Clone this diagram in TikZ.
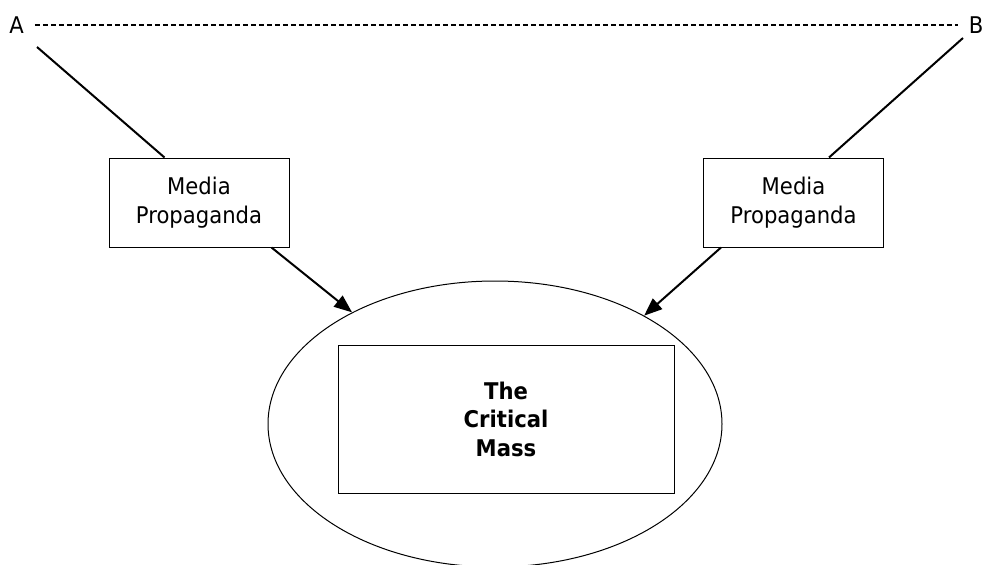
\documentclass[tikz,border=0pt]{standalone}
\usepackage{fontspec}
\setmainfont{DejaVu Sans}[FakeStretch=0.92]
\usetikzlibrary{arrows.meta,shapes.geometric,calc}
\begin{document}
\begin{tikzpicture}[x=1pt,y=-1pt,
  lbl/.style={inner xsep=11pt, inner ysep=0pt, font=\fontsize{23}{29}\selectfont},
  mediabox/.style={draw, line width=1pt, minimum width=180pt, minimum height=89pt, align=center, inner sep=0pt, font=\fontsize{23}{29}\selectfont},
  massbox/.style={draw, line width=1pt, minimum width=336pt, minimum height=148pt, align=center, inner sep=0pt, font=\fontsize{23}{28.5}\selectfont\bfseries},
  massell/.style={draw, ellipse, line width=1pt, minimum width=454pt, minimum height=286pt, inner sep=0pt},
  conn/.style={line width=2pt},
  arr/.style={conn, -{Triangle[length=18pt,width=14pt]}},
  dline/.style={line width=1.6pt, dash pattern=on 5pt off 3pt}]
\useasboundingbox (0,0) rectangle (983,565);

\node[lbl] (A) at (16.5,25) {A};
\node[lbl] (B) at (976,25) {B};
\draw[dline] (A.east) -- (B.west);

\node[mediabox] (mp1) at (199,202.5) {Media\\Propaganda};
\node[mediabox] (mp2) at (793.5,202.5) {Media\\Propaganda};

\node[massell] (ell) at (495,424) {};
\node[massbox] (cm) at (506,419) {The\\Critical\\Mass};

\coordinate (la) at (37,47);
\coordinate (rb) at (963,38);
\draw[conn] (la) -- ($(mp1.north west)+(56,0)$);
\draw[conn] (rb) -- ($(mp2.north west)+(126,0)$);
\draw[arr] ($(mp1.south west)+(163,0)$) -- (ell.142);
\draw[arr] ($(mp2.south west)+(18,0)$) -- (ell.36);
\end{tikzpicture}
\end{document}
